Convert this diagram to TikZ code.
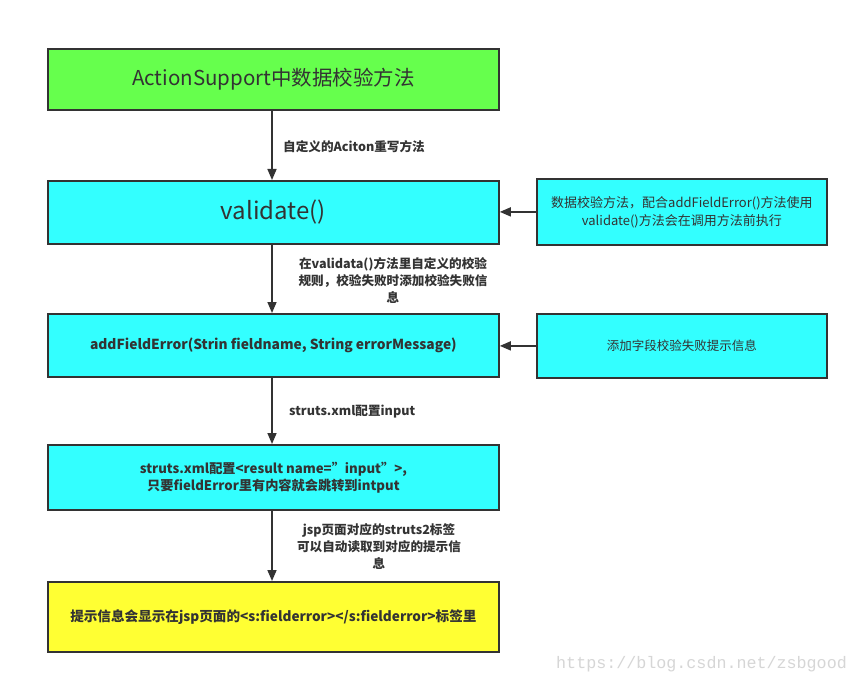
\documentclass[tikz,border=0pt]{standalone}
\usepackage{fontspec}
\setmainfont{Noto Sans CJK SC}
\newfontfamily\wmfont{Liberation Mono}
\usetikzlibrary{arrows.meta}
\definecolor{gbox}{HTML}{66FF4D}
\definecolor{cbox}{HTML}{33FFFF}
\definecolor{ybox}{HTML}{FFFF33}
\definecolor{ink}{HTML}{333333}
\tikzset{
  box/.style={draw=ink, line width=1.8pt, minimum width=451pt, anchor=north west, inner sep=0pt, text=ink, align=center},
  sidebox/.style={draw=ink, line width=1.8pt, minimum width=290pt, anchor=north west, inner sep=0pt, fill=cbox, text=ink, align=center},
  conn/.style={draw=ink, line width=1.6pt, -{Triangle[length=11pt,width=9pt]}},
  lbl/.style={text=ink, font=\fontsize{12.6}{17}\selectfont\bfseries, align=center, inner sep=0pt}
}
\begin{document}
\begin{tikzpicture}[x=1pt,y=-1pt]
\useasboundingbox[fill=white] (0,0) rectangle (858,684);
\node[box, fill=gbox, minimum height=61pt, font=\fontsize{20.5}{24}\selectfont] (b1) at (47,48) {ActionSupport中数据校验方法};
\node[box, fill=cbox, minimum height=63pt, font=\fontsize{24}{28}\selectfont] (b2) at (47,180) {validate()};
\node[sidebox, minimum height=66pt, font=\fontsize{13}{18}\selectfont] (s1) at (536,178) {数据校验方法，配合addFieldError()方法使用\\validate()方法会在调用方法前执行};
\node[box, fill=cbox, minimum height=63pt, font=\fontsize{13.8}{18}\selectfont\bfseries] (b3) at (47,313) {addFieldError(Strin fieldname, String errorMessage)};
\node[sidebox, minimum height=64pt, font=\fontsize{12.5}{18}\selectfont] (s2) at (536,313) {添加字段校验失败提示信息};
\node[box, fill=cbox, minimum height=65pt, font=\fontsize{13.2}{17}\selectfont\bfseries] (b4) at (47,444) {struts.xml配置<result name="input">,\\只要fieldError里有内容就会跳转到intput};
\node[box, fill=ybox, minimum height=70pt, font=\fontsize{13.6}{18}\selectfont\bfseries] (b5) at (47,581) {提示信息会显示在jsp页面的<s:fielderror></s:fielderror>标签里};

\coordinate (a1s) at (272,109);
\draw[conn] (b1.south -| a1s) -- (b2.north -| a1s);
\draw[conn] (b2.south -| a1s) -- (b3.north -| a1s);
\draw[conn] (b3.south -| a1s) -- (b4.north -| a1s);
\draw[conn] (b4.south -| a1s) -- (b5.north -| a1s);
\draw[conn] (s1.west) -- (b2.east |- s1.west);
\draw[conn] (s2.west) -- (b3.east |- s2.west);

\node[lbl, anchor=west] (l1) at (283,147) {自定义的Aciton重写方法};
\node[lbl] (l2) at (393,280) {在validata()方法里自定义的校验\\规则，校验失败时添加校验失败信\\息};
\node[lbl, anchor=west] (l3) at (289,412) {struts.xml配置input};
\node[lbl] (l4) at (379,547) {jsp页面对应的struts2标签\\可以自动读取到对应的提示信\\息};

\node[anchor=west, inner sep=0pt, text=black!16, font=\wmfont\fontsize{16.7}{18}\selectfont] (wm) at (556,664) {https://blog.csdn.net/zsbgood};
\end{tikzpicture}
\end{document}
